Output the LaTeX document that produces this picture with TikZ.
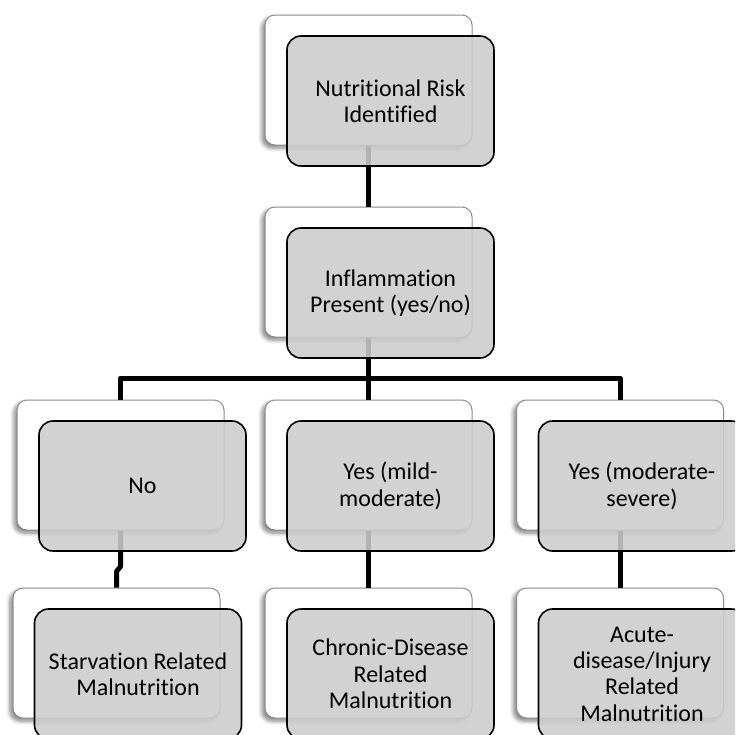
\documentclass[tikz,border=0pt]{standalone}
\usepackage{fontspec}
\setmainfont{Carlito}[Ligatures=NoCommon]
\usetikzlibrary{shadows.blur}

\tikzset{
  backbox/.style={draw=black!45, line width=0.5pt, fill=white,
    rounded corners=5pt, minimum width=103.5pt, minimum height=65pt,
    inner sep=0pt,
    blur shadow={shadow xshift=-1.5pt, shadow yshift=-1.5pt,
      shadow blur radius=2pt, shadow blur steps=6, shadow opacity=50}},
  frontbox/.style={draw=black, line width=0.8pt, fill=black!20,
    fill opacity=0.88, text opacity=1, rounded corners=7pt,
    minimum width=103.5pt, minimum height=65pt, inner sep=0pt,
    align=center, font=\fontsize{12}{13.2}\selectfont},
  conn/.style={line width=2.5pt, line join=round},
}

\begin{document}
\begin{tikzpicture}[x=0.5pt, y=-0.5pt]
    \useasboundingbox (0,0) rectangle (735,735);
    \clip (0,0) rectangle (735,735);

    % back boxes
    \node[backbox](riskbk) at (368.5, 80){};
    \node[backbox](inflbk) at (368.5, 272){};
    \node[backbox](nobk) at (120.5, 465){};
    \node[backbox](mildbk) at (368.5, 465){};
    \node[backbox](sevbk) at (620, 465){};
    \node[backbox](starvbk) at (116.5, 653){};
    \node[backbox](chronbk) at (368.5, 653){};
    \node[backbox](acutebk) at (620, 653){};

    % risk -> inflammation
    \draw [conn] (riskbk.south) -- (inflbk.north);

    % inflammation -> three branches
    \coordinate (split) at (368.5, 378);
    \draw [conn] (inflbk.south) -- (split) -| (nobk.north);
    \draw [conn] (split) -| (sevbk.north);
    \draw [conn] (split) -- (mildbk.north);

    % branches -> outcomes
    \draw [conn] (nobk.south) -- ++(0, 36) -- ++(-4, 5) -- (starvbk.north);
    \draw [conn] (mildbk.south) -- (chronbk.north);
    \draw [conn] (sevbk.south) -- (acutebk.north);

    % front boxes
    \node[frontbox](risk) at (390.5, 101){Nutritional Risk\\Identified};
    \node[frontbox](infl) at (390.5, 293){Inflammation\\Present (yes/no)};
    \node[frontbox](no) at (142.5, 486){No};
    \node[frontbox](mild) at (390.5, 486){Yes (mild-\\moderate)};
    \node[frontbox](sev) at (642, 486){Yes (moderate-\\severe)};
    \node[frontbox](starv) at (138, 674){Starvation Related\\Malnutrition};
    \node[frontbox](chron) at (390.5, 674){Chronic-Disease\\Related\\Malnutrition};
    \node[frontbox](acute) at (642, 674){Acute-\\disease/Injury\\Related\\Malnutrition};
\end{tikzpicture}
\end{document}
